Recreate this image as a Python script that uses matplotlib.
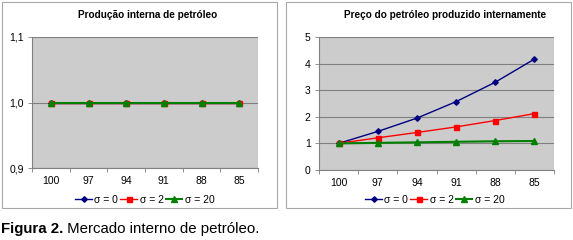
import matplotlib
matplotlib.use("Agg")
import matplotlib.pyplot as plt
from matplotlib.patches import Rectangle
from matplotlib.ticker import FixedLocator, NullFormatter, FixedFormatter

plt.rcParams['font.family'] = ['Liberation Sans', 'DejaVu Sans']

categories = ["100", "97", "94", "91", "88", "85"]
series_names = ["σ = 0", "σ = 2", "σ = 20"]
prod_s0 = [1.0, 1.0, 1.0, 1.0, 1.0, 1.0]
prod_s2 = [1.0, 1.0, 1.0, 1.0, 1.0, 1.0]
prod_s20 = [1.0, 1.0, 1.0, 1.0, 1.0, 1.0]
price_s0 = [1.0, 1.45, 1.95, 2.57, 3.30, 4.17]
price_s2 = [1.0, 1.21, 1.41, 1.62, 1.86, 2.12]
price_s20 = [1.0, 1.02, 1.04, 1.06, 1.08, 1.09]
left_yticks = [0.9, 1.0, 1.1]
left_yticklabels = ["0,9", "1,0", "1,1"]
right_yticks = [0, 1, 2, 3, 4, 5]
title_left = "Produção interna de petróleo"
title_right = "Preço do petróleo produzido internamente"
caption_bold = "Figura 2."
caption_rest = " Mercado interno de petróleo."

W, H = 573, 240
fig = plt.figure(figsize=(W / 100, H / 100), dpi=100)
fig.patch.set_facecolor("white")

FS = 7.5

def px_rect(x0, y0, x1, y1):
    return [x0 / W, 1 - y1 / H, (x1 - x0) / W, (y1 - y0) / H]

# panel borders
for (x0, y0, x1, y1) in [(2, 2, 277, 208), (286, 2, 571, 208)]:
    fig.patches.append(Rectangle((x0 / W, 1 - y1 / H), (x1 - x0) / W, (y1 - y0) / H,
                                 transform=fig.transFigure, fill=False,
                                 edgecolor="#a8a8a8", linewidth=0.8))

styles = [
    dict(color="#000080", marker="D", markersize=2.8, linewidth=1.0),
    dict(color="#ff0000", marker="s", markersize=3.6, linewidth=1.0),
    dict(color="#008000", marker="^", markersize=4.0, linewidth=1.5),
]

def setup(ax, ylim, yticks, yticklabels):
    ax.set_facecolor("#cccccc")
    x = list(range(len(categories)))
    ax.set_xlim(-0.5, len(categories) - 0.5)
    ax.set_ylim(*ylim)
    ax.xaxis.set_major_locator(FixedLocator([i - 0.5 for i in range(len(categories) + 1)]))
    ax.xaxis.set_major_formatter(NullFormatter())
    ax.xaxis.set_minor_locator(FixedLocator(x))
    ax.xaxis.set_minor_formatter(FixedFormatter(categories))
    ax.tick_params(axis="x", which="major", length=3, width=0.6, color="#808080", direction="out")
    ax.tick_params(axis="x", which="minor", length=0, labelsize=FS, pad=6)
    ax.set_yticks(yticks)
    ax.set_yticklabels(yticklabels)
    ax.tick_params(axis="y", length=3, width=0.6, color="#808080", labelsize=FS, pad=3)
    for s in ["top", "right"]:
        ax.spines[s].set_visible(False)
    for s in ["left", "bottom"]:
        ax.spines[s].set_color("#808080")
        ax.spines[s].set_linewidth(0.8)
    ax.yaxis.grid(True, color="#808080", linewidth=0.8)
    ax.set_axisbelow(True)
    return x

def legend(handles, cx):
    fig.legend(handles=handles, loc="center", bbox_to_anchor=(cx / W, 1 - 200 / H),
               ncol=3, frameon=False, fontsize=FS, handlelength=1.6, handletextpad=0.25,
               columnspacing=0.2, borderpad=0)

# left chart
axL = fig.add_axes(px_rect(32, 37, 258, 168))
x = setup(axL, (0.9, 1.1), left_yticks, left_yticklabels)
handles = []
for vals, name, st in zip([prod_s0, prod_s2, prod_s20], series_names, styles):
    h, = axL.plot(x, vals, label=name, clip_on=False, **st)
    handles.append(h)
legend(handles, 145)
fig.text(148 / W, 1 - 15 / H, title_left, ha="center", va="center",
         fontsize=7.2, fontweight="bold")

# right chart
axR = fig.add_axes(px_rect(319, 37, 554, 170))
x = setup(axR, (0, 5), right_yticks, [str(v) for v in right_yticks])
handles = []
for vals, name, st in zip([price_s0, price_s2, price_s20], series_names, styles):
    h, = axR.plot(x, vals, label=name, clip_on=False, **st)
    handles.append(h)
legend(handles, 435)
fig.text(445 / W, 1 - 15 / H, title_right, ha="center", va="center",
         fontsize=7.2, fontweight="bold")

# caption
t = fig.text(1 / W, 1 - 229 / H, caption_bold, ha="left", va="center",
             fontsize=10.8, fontweight="bold")
fig.canvas.draw()
bb = t.get_window_extent()
fig.text(bb.x1 / W, 1 - 229 / H, caption_rest, ha="left", va="center", fontsize=10.8)

fig.savefig("out.png", dpi=100, facecolor="white")
